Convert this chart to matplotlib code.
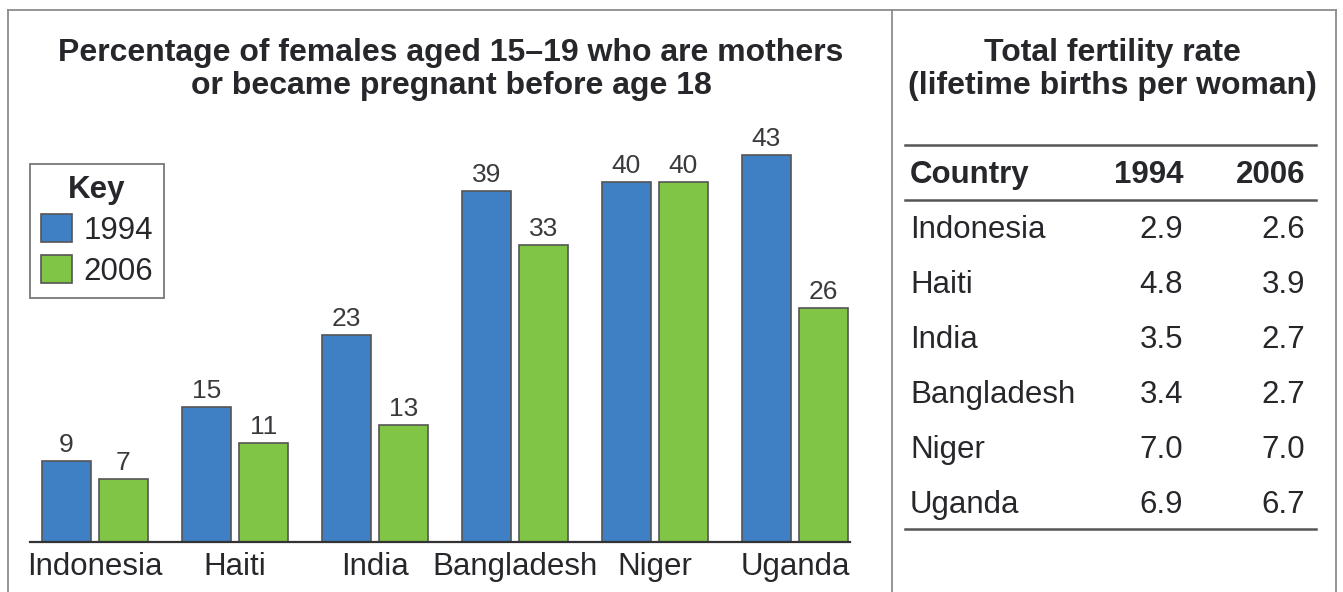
import matplotlib
matplotlib.use("Agg")
import matplotlib.pyplot as plt
import numpy as np
from matplotlib.lines import Line2D

countries   = ["Indonesia", "Haiti", "India", "Bangladesh", "Niger", "Uganda"]
pct_1994    = [9, 15, 23, 39, 40, 43]
pct_2006    = [7, 11, 13, 33, 40, 26]
tfr_1994    = ["2.9", "4.8", "3.5", "3.4", "7.0", "6.9"]
tfr_2006    = ["2.6", "3.9", "2.7", "2.7", "7.0", "6.7"]
years       = ["1994", "2006"]

W, H = 1343, 592
blue  = "#3f7fc4"
green = "#80c545"
edge  = "#555555"
text_c = "#26272b"
frame_c = "#8c8c8c"
title_fs = 23
body_fs = 22.5

plt.rcParams["font.family"] = ["Liberation Sans", "DejaVu Sans"]


def fx(x):
    return x / W


def fy(y):
    return 1 - y / H


fig = plt.figure(figsize=(W / 100, H / 100), dpi=100)

# outer frame and divider
fig.add_artist(Line2D([fx(8), fx(1336)], [fy(10), fy(10)], color=frame_c, lw=1.3))
fig.add_artist(Line2D([fx(8), fx(8)], [fy(10), 0], color=frame_c, lw=1.3))
fig.add_artist(Line2D([fx(1336), fx(1336)], [fy(10), 0], color=frame_c, lw=1.3))
fig.add_artist(Line2D([fx(892), fx(892)], [fy(10), 0], color=frame_c, lw=1.3))

# bar chart
ax = fig.add_axes([fx(30), fy(542), fx(850 - 30), (542 - 100) / H])
x = np.arange(len(countries))
off, width = 0.2036, 0.35
b1 = ax.bar(x - off, pct_1994, width, color=blue, edgecolor=edge, linewidth=1.2, label=years[0])
b2 = ax.bar(x + off, pct_2006, width, color=green, edgecolor=edge, linewidth=1.2, label=years[1])
for bars, vals in ((b1, pct_1994), (b2, pct_2006)):
    for b, v in zip(bars, vals):
        ax.text(b.get_x() + b.get_width() / 2, v + 0.4, str(v), ha="center", va="bottom",
                fontsize=19, color="#3a3a3e")
ax.set_xlim(-0.464, 5.393)
ax.set_ylim(0, 442 / 9)
ax.set_xticks(x)
ax.set_xticklabels(countries, fontsize=body_fs, color=text_c)
ax.tick_params(axis="x", length=0, pad=7)
ax.set_yticks([])
for s in ["top", "left", "right"]:
    ax.spines[s].set_visible(False)
ax.spines["bottom"].set_color("#333333")
ax.spines["bottom"].set_linewidth(1.6)
ax.patch.set_alpha(0)

leg = ax.legend(loc="upper left", bbox_to_anchor=(fx(30), fy(164)), bbox_transform=fig.transFigure,
                borderaxespad=0, title="Key", fontsize=body_fs,
                title_fontproperties={"weight": "bold", "size": body_fs},
                fancybox=False, edgecolor="#777777", framealpha=1, handlelength=1.0, handleheight=1.0,
                handletextpad=0.35, labelspacing=0.3, borderpad=0.35)
for t in leg.get_texts():
    t.set_color(text_c)
leg.get_title().set_color(text_c)
leg.get_frame().set_linewidth(1.3)

fig.text(fx(451), fy(53), "Percentage of females aged 15\u201319 who are mothers",
         ha="center", va="center", fontsize=title_fs, fontweight="bold", color=text_c)
fig.text(fx(451), fy(86), "or became pregnant before age 18",
         ha="center", va="center", fontsize=title_fs, fontweight="bold", color=text_c)

# table
fig.text(fx(1112), fy(53), "Total fertility rate", ha="center", va="center",
         fontsize=title_fs, fontweight="bold", color=text_c)
fig.text(fx(1112), fy(86), "(lifetime births per woman)", ha="center", va="center",
         fontsize=title_fs, fontweight="bold", color=text_c)

for yl in (145, 200, 529):
    fig.add_artist(Line2D([fx(905), fx(1316)], [fy(yl), fy(yl)], color="#555555", lw=1.8))

fig.text(fx(910), fy(175), "Country", ha="left", va="center", fontsize=body_fs, fontweight="bold", color=text_c)
fig.text(fx(1183), fy(175), years[0], ha="right", va="center", fontsize=body_fs, fontweight="bold", color=text_c)
fig.text(fx(1305), fy(175), years[1], ha="right", va="center", fontsize=body_fs, fontweight="bold", color=text_c)
for i, (c, a, b) in enumerate(zip(countries, tfr_1994, tfr_2006)):
    yy = 230 + 55 * i
    fig.text(fx(910), fy(yy), c, ha="left", va="center", fontsize=body_fs, color=text_c)
    fig.text(fx(1183), fy(yy), a, ha="right", va="center", fontsize=body_fs, color=text_c)
    fig.text(fx(1305), fy(yy), b, ha="right", va="center", fontsize=body_fs, color=text_c)

fig.savefig("out.png", dpi=100)
